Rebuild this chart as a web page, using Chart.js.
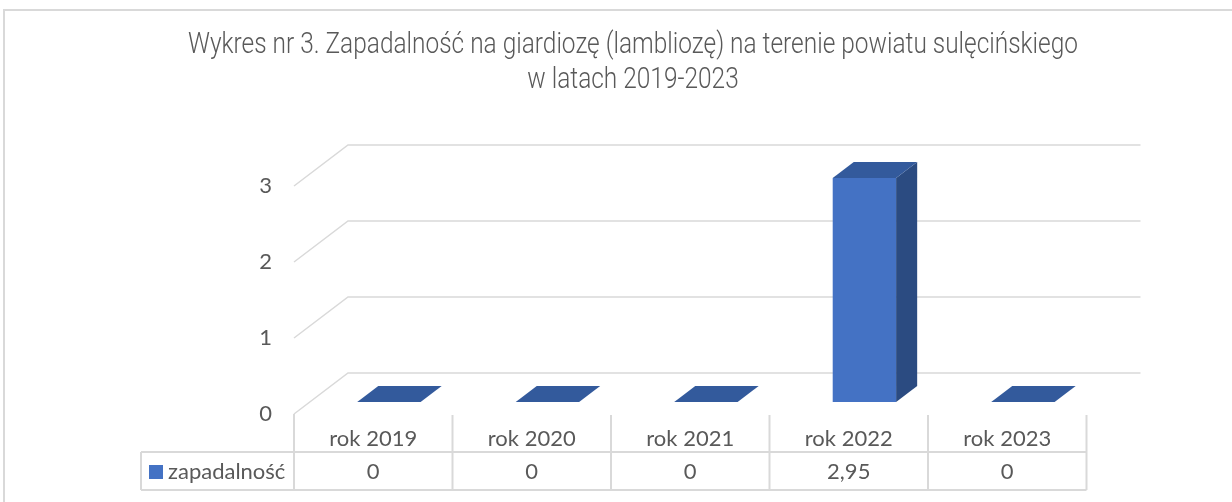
<!DOCTYPE html>
<html>
<head>
<meta charset="utf-8">
<script src="https://cdn.jsdelivr.net/npm/chart.js@4.4.1/dist/chart.umd.min.js"></script>
<style>
    html, body { margin: 0; background: #fff; }
</style>
</head>
<body>
<canvas id="chart" width="1232" height="502"></canvas>
<script>
// ============ Data ============
const categories = ['rok 2019', 'rok 2020', 'rok 2021', 'rok 2022', 'rok 2023'];
const incidence = [0, 0, 0, 2.95, 0];
const seriesName = 'zapadalność';
const yTicks = [0, 1, 2, 3];
const titleLines = [
    'Wykres nr 3. Zapadalność na giardiozę (lambliozę) na terenie powiatu sulęcińskiego',
    'w latach 2019-2023'
];

// ============ Look ============
const TEXT = '#595959';
const GRID = '#d9d9d9';
const FRONT = '#4472c4';
const TOP = '#335a9c';
const SIDE = '#2b4b81';
const FONT = 'Lato, "Open Sans", sans-serif';
const DEPTH_X = 54, DEPTH_Y = 41;     // floor depth (front -> back wall)
const BAR_POS = 0.29, BAR_DEPTH = 0.39; // bar front position and depth, as part of floor depth

function fmt(v) { return String(v).replace('.', ','); }

// title, condensed like the original
const titlePlugin = {
    id: 'title3d',
    afterDraw(chart) {
        const ctx = chart.ctx;
        ctx.save();
        ctx.font = '300 29px Roboto';
        ctx.fillStyle = TEXT;
        ctx.textAlign = 'center';
        ctx.textBaseline = 'alphabetic';
        const sx = 890 / ctx.measureText(titleLines[0]).width;
        const base = [53, 88];
        titleLines.forEach((line, i) => {
            ctx.save();
            ctx.translate(633, base[i]);
            ctx.scale(sx, 1);
            ctx.fillText(line, 0, 0);
            ctx.restore();
        });
        // outer chart border
        ctx.strokeStyle = GRID;
        ctx.lineWidth = 2;
        ctx.beginPath();
        ctx.moveTo(4, 502); ctx.lineTo(4, 10); ctx.lineTo(1232, 10);
        ctx.stroke();
        ctx.restore();
    }
};

// walls, gridlines and bar depth
const depthPlugin = {
    id: 'depth3d',
    beforeDatasetsDraw(chart) {
        const { ctx, chartArea: a, scales: { y } } = chart;
        ctx.save();
        ctx.strokeStyle = GRID;
        ctx.lineWidth = 1.5;
        yTicks.forEach(v => {
            const py = y.getPixelForValue(v);
            ctx.beginPath();
            ctx.moveTo(a.left, py);
            ctx.lineTo(a.left + DEPTH_X, py - DEPTH_Y);
            ctx.lineTo(a.right + DEPTH_X, py - DEPTH_Y);
            ctx.stroke();
        });
        ctx.restore();
        ctx.save();
        ctx.translate(DEPTH_X * BAR_POS, -DEPTH_Y * BAR_POS);
    },
    afterDatasetsDraw(chart) {
        const ctx = chart.ctx;
        const bx = DEPTH_X * BAR_DEPTH, by = DEPTH_Y * BAR_DEPTH;
        chart.getDatasetMeta(0).data.forEach(bar => {
            const l = bar.x - bar.width / 2, r = bar.x + bar.width / 2;
            const t = Math.min(bar.y, bar.base), b = Math.max(bar.y, bar.base);
            ctx.fillStyle = SIDE;
            ctx.beginPath();
            ctx.moveTo(r, t); ctx.lineTo(r + bx, t - by); ctx.lineTo(r + bx, b - by); ctx.lineTo(r, b);
            ctx.closePath(); ctx.fill();
            ctx.fillStyle = TOP;
            ctx.beginPath();
            ctx.moveTo(l, t); ctx.lineTo(r, t); ctx.lineTo(r + bx, t - by); ctx.lineTo(l + bx, t - by);
            ctx.closePath(); ctx.fill();
        });
        ctx.restore();
    }
};

// data table under the axis
const tablePlugin = {
    id: 'dataTable',
    afterDraw(chart) {
        const { ctx, chartArea: a, scales: { x } } = chart;
        const rowTop = x.top + 1, rowMid = x.bottom, rowBot = x.bottom + 38;
        const legendLeft = 141;
        const colW = (a.right - a.left) / categories.length;
        ctx.save();
        ctx.strokeStyle = GRID;
        ctx.lineWidth = 2;
        ctx.beginPath();
        ctx.moveTo(a.left, a.bottom); ctx.lineTo(a.left, rowBot);
        for (let i = 1; i <= categories.length; i++) {
            ctx.moveTo(a.left + i * colW, rowTop); ctx.lineTo(a.left + i * colW, rowBot);
        }
        ctx.moveTo(legendLeft, rowMid); ctx.lineTo(a.right, rowMid);
        ctx.moveTo(legendLeft, rowBot); ctx.lineTo(a.right, rowBot);
        ctx.moveTo(legendLeft, rowMid); ctx.lineTo(legendLeft, rowBot);
        ctx.stroke();

        const cy = (rowMid + rowBot) / 2 + 1;
        ctx.fillStyle = FRONT;
        ctx.fillRect(149, cy - 7, 14, 14);
        ctx.fillStyle = TEXT;
        ctx.font = '22px ' + FONT;
        ctx.textBaseline = 'middle';
        ctx.textAlign = 'left';
        ctx.fillText(seriesName, 168, cy);
        ctx.textAlign = 'center';
        incidence.forEach((v, i) => ctx.fillText(fmt(v), x.getPixelForValue(i), cy));
        ctx.restore();
    }
};

new Chart(document.getElementById('chart'), {
    type: 'bar',
    data: {
        labels: categories,
        datasets: [{
            label: seriesName,
            data: incidence,
            backgroundColor: FRONT,
            borderWidth: 0,
            categoryPercentage: 1,
            barPercentage: 0.4,
            clip: false
        }]
    },
    options: {
        responsive: false,
        animation: false,
        layout: { padding: { left: 234, right: 145.5, top: 186, bottom: 50 } },
        plugins: { legend: { display: false }, tooltip: { enabled: false } },
        scales: {
            x: {
                grid: { display: false, drawTicks: false },
                border: { display: false },
                ticks: { color: TEXT, font: { family: FONT, size: 22 }, padding: 12, maxRotation: 0 },
                afterFit(s) { s.height = 38; }
            },
            y: {
                min: 0, max: 3,
                grid: { display: false, drawTicks: false },
                border: { display: false },
                ticks: { stepSize: 1, color: TEXT, font: { family: FONT, size: 22 }, padding: 22 },
                afterFit(s) { s.width = 60; }
            }
        }
    },
    plugins: [depthPlugin, tablePlugin, titlePlugin]
});
</script>
</body>
</html>
